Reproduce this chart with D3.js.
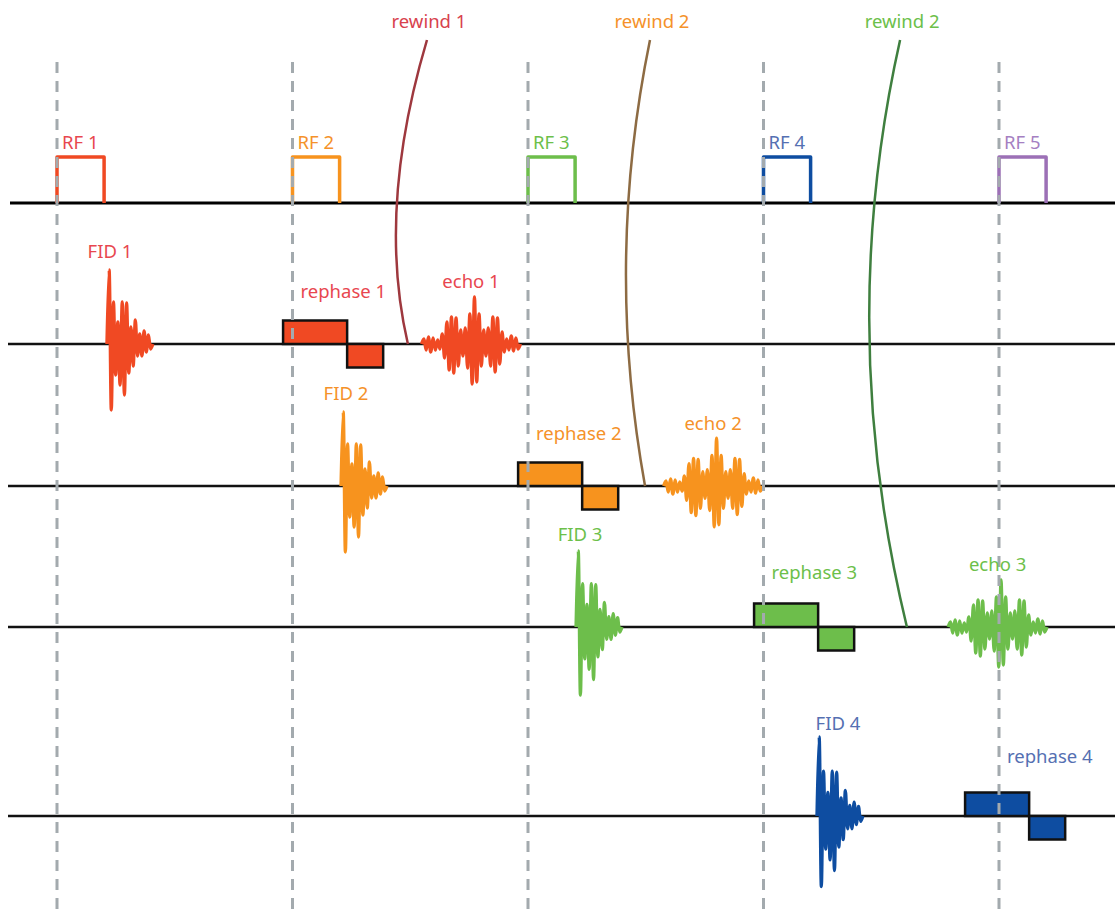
<!DOCTYPE html>
<html><head><meta charset="utf-8">
<script src="https://cdn.jsdelivr.net/npm/d3@7"></script>
<style>html,body{margin:0;padding:0;background:#fff;} svg{display:block;}</style>
</head><body>
<svg id="chart" width="1115" height="909"></svg>
<script>
// ---------------- data (times in TR units, amplitudes in arbitrary units) ----------------
const rfLabels = ["RF 1", "RF 2", "RF 3", "RF 4", "RF 5"];
const rfTimes = [0, 1, 2, 3, 4];
const rfDuration = 0.2;

const fidLabels = ["FID 1", "FID 2", "FID 3", "FID 4"];
const fidStarts = [0.212, 1.206, 2.204, 3.227];
const fidDuration = 0.195;
const fidGains = [1.0, 1.0, 1.03, 1.07];
const fidPeaks = [0, 74, -66, 42, -31, 22, -41, 42, -51, 41, -29, 17, -22, 24, -12, 10, -12, 13, -8, 9, -5, 0];

const rephaseLabels = ["rephase 1", "rephase 2", "rephase 3", "rephase 4"];
const rephaseStarts = [0.96, 1.958, 2.96, 3.856];
const rephaseAmps = [1, -1];
const rephaseDurs = [0.272, 0.153];

const echoLabels = ["echo 1", "echo 2", "echo 3"];
const echoCenters = [1.758, 2.786, 3.994];
const echoHalfWidth = 0.21;
const echoGains = [1.0, 1.02, 1.0];
const echoPeaks = [0, 5, -6, 7, -8, 6, -6, 4, -5, 10, -14, 22, -26, 27, -29, 26, -22, 14, -12, 16, -24, 30,
                   -40, 47, -38, 30, -22, 14, -12, 16, -22, 27, -28, 26, -20, 12, -8, 5, -6, 8, -7, 6, -5, 0];

const rewindLabels = ["rewind 1", "rewind 2", "rewind 2"];
const rewindTops = [1.571, 2.518, 3.580];
const rewindCtrls = [1.357, 2.325, 3.304];
const rewindEnds = [1.490, 2.497, 3.609];
const rewindBends = [0.56, 0.5, 0.496];

// ---------------- layout & style ----------------
const W = 1115, H = 909;
const svg = d3.select("#chart");
const x = d3.scaleLinear().domain([0, 4]).range([57, 999]);
const rowY = d3.scaleOrdinal().domain([0, 1, 2, 3, 4]).range([203, 344, 486, 627, 816]);
const grad = d3.scaleLinear().domain([-1, 1]).range([23.5, -23.5]);
const sig = d3.scaleLinear().domain([-100, 100]).range([100, -100]);
const rfAmp = d3.scaleLinear().domain([0, 1]).range([0, -46]);
const topY = 38;

const eventColors = ["#f04923", "#f7931e", "#6dbe4b", "#0e4da1", "#9c70b6"];
const labelColors = ["#e8474f", "#f5922a", "#6cc04a", "#5570b2", "#a57fc2"];
const rewindColors = ["#9e383e", "#8d6b43", "#3f7f3f"];
const rewindLabelColors = ["#d8424d", "#f5922a", "#6cc04a"];
const font = "'Noto Sans', sans-serif";

// baselines
svg.append("line").attr("x1", 10).attr("x2", W).attr("y1", rowY(0)).attr("y2", rowY(0))
  .attr("stroke", "#000").attr("stroke-width", 3);
svg.selectAll("line.base").data([1, 2, 3, 4]).join("line").attr("class", "base")
  .attr("x1", 8).attr("x2", W).attr("y1", d => rowY(d)).attr("y2", d => rowY(d))
  .attr("stroke", "#111").attr("stroke-width", 2.5);

// rephase gradient lobes
rephaseStarts.forEach((s, i) => {
  let t = s;
  rephaseAmps.forEach((a, k) => {
    const y0 = rowY(i + 1), y1 = rowY(i + 1) + grad(a);
    svg.append("rect")
      .attr("x", x(t)).attr("width", x(t + rephaseDurs[k]) - x(t))
      .attr("y", Math.min(y0, y1)).attr("height", Math.abs(y1 - y0))
      .attr("fill", eventColors[i]).attr("stroke", "#111").attr("stroke-width", 2.5);
    t += rephaseDurs[k];
  });
});

// FIDs
fidStarts.forEach((s, i) => {
  const line = d3.line()
    .x((d, j) => x(s + j / (fidPeaks.length - 1) * fidDuration))
    .y(d => rowY(i + 1) + sig(d * fidGains[i]))
    .curve(d3.curveCatmullRom.alpha(0.5));
  svg.append("path").attr("d", line(fidPeaks)).attr("fill", "none")
    .attr("stroke", eventColors[i]).attr("stroke-width", 3.3).attr("stroke-linejoin", "round");
});

// echoes
echoCenters.forEach((c, i) => {
  const line = d3.line()
    .x((d, j) => x(c - echoHalfWidth + j / (echoPeaks.length - 1) * 2 * echoHalfWidth))
    .y(d => rowY(i + 1) + sig(d * echoGains[i]))
    .curve(d3.curveCatmullRom.alpha(0.5));
  svg.append("path").attr("d", line(echoPeaks)).attr("fill", "none")
    .attr("stroke", eventColors[i]).attr("stroke-width", 3.3).attr("stroke-linejoin", "round");
});

// RF pulses
rfTimes.forEach((t, i) => {
  const pts = [[t, 0], [t, 1], [t + rfDuration, 1], [t + rfDuration, 0]];
  svg.append("path")
    .attr("d", d3.line().x(d => x(d[0])).y(d => rowY(0) + rfAmp(d[1]))(pts))
    .attr("fill", "none").attr("stroke", eventColors[i]).attr("stroke-width", 3.5)
    .attr("stroke-linejoin", "round");
});

// rewind curves
rewindTops.forEach((t, i) => {
  const yEnd = rowY(i + 1);
  const p = d3.path();
  p.moveTo(x(t), topY + 2);
  p.quadraticCurveTo(x(rewindCtrls[i]), topY + rewindBends[i] * (yEnd - topY), x(rewindEnds[i]), yEnd);
  svg.append("path").attr("d", p.toString()).attr("fill", "none")
    .attr("stroke", rewindColors[i]).attr("stroke-width", 2.5);
});

// dashed TR markers
svg.selectAll("line.tr").data(rfTimes).join("line").attr("class", "tr")
  .attr("x1", d => x(d)).attr("x2", d => x(d)).attr("y1", 62).attr("y2", H)
  .attr("stroke", "#a3aaae").attr("stroke-width", 3).attr("stroke-dasharray", "11,8");

// labels
function label(txt, px, py, color, anchor) {
  svg.append("text").attr("x", px).attr("y", py).attr("text-anchor", anchor || "start")
    .attr("font-family", font).attr("font-size", 18.5).attr("fill", color).text(txt);
}
rfLabels.forEach((l, i) => label(l, x(rfTimes[i]) + 5, rowY(0) - 54, labelColors[i]));
const fidLabelNudge = [3, 5, 4, 21];
fidLabels.forEach((l, i) => label(l, x(fidStarts[i]) + fidLabelNudge[i], rowY(i + 1) - 86, labelColors[i], "middle"));
const rephaseLabelLift = [46, 46, 48, 53];
rephaseLabels.forEach((l, i) => label(l, x(i + 1) + 8, rowY(i + 1) - rephaseLabelLift[i], labelColors[i]));
echoLabels.forEach((l, i) => label(l, x(echoCenters[i]), rowY(i + 1) - 56, labelColors[i], "middle"));
rewindLabels.forEach((l, i) => label(l, x(rewindTops[i]) + 2, 28, rewindLabelColors[i], "middle"));
</script>
</body></html>
